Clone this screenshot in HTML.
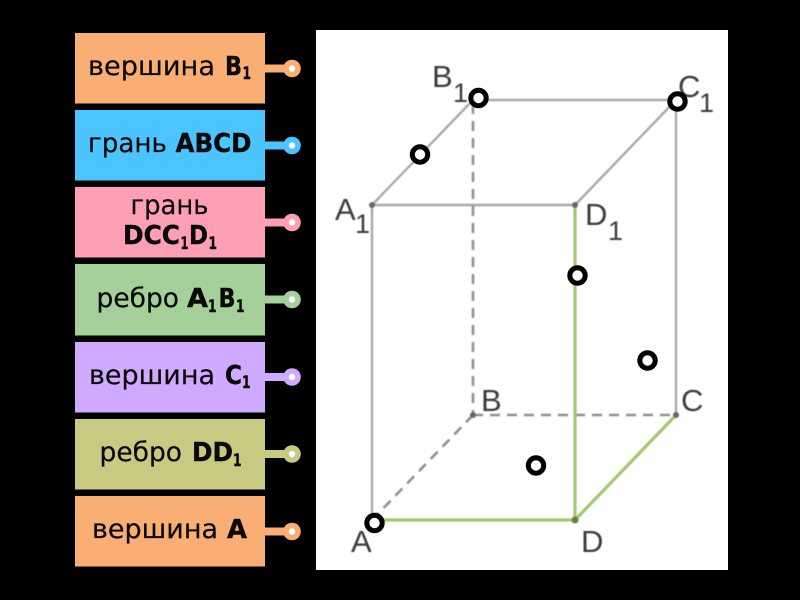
<!DOCTYPE html>
<html>
<head>
<meta charset="utf-8">
<style>
html,body{margin:0;padding:0;background:#000;width:800px;height:600px;overflow:hidden}
svg{display:block}
.t{font-family:"DejaVu Sans","Liberation Sans",sans-serif;font-size:27px;fill:#0a0a0a;stroke:#0a0a0a;stroke-width:.2}
.b{font-family:"DejaVu Sans","Liberation Sans",sans-serif;font-size:26px;font-weight:bold;fill:#0a0a0a;stroke:#0a0a0a;stroke-width:.4}
.s{font-family:"DejaVu Sans","Liberation Sans",sans-serif;font-size:17px;font-weight:bold;fill:#0a0a0a;stroke:#0a0a0a;stroke-width:.4}
.l{font-family:"Liberation Sans",sans-serif;font-size:31px;fill:#3a3a3a}
.n{font-family:"Liberation Sans",sans-serif;font-size:27px;fill:#3a3a3a}
</style>
</head>
<body>
<svg width="800" height="600" viewBox="0 0 800 600" xmlns="http://www.w3.org/2000/svg">
<defs><filter id="soft" x="0" y="0" width="100%" height="100%"><feGaussianBlur stdDeviation="0.45"/></filter></defs>
<rect width="800" height="600" fill="#000"/>
<rect x="316" y="30" width="412" height="540" fill="#fff"/>

<!-- left boxes -->
<g>
<rect x="75" y="33" width="190" height="70.5" fill="#f9ae73"/>
<rect x="265" y="64.5" width="22" height="8" fill="#f9ae73"/><circle cx="292" cy="68.5" r="8.8" fill="#f9ae73"/><circle cx="292" cy="68.5" r="3.2" fill="#fff"/>
<rect x="75" y="110" width="190" height="70.5" fill="#4cc4ff"/>
<rect x="265" y="141.5" width="22" height="8" fill="#4cc4ff"/><circle cx="292" cy="145.5" r="8.8" fill="#4cc4ff"/><circle cx="292" cy="145.5" r="3.2" fill="#fff"/>
<rect x="75" y="187" width="190" height="70.5" fill="#ff9fb4"/>
<rect x="265" y="218.5" width="22" height="8" fill="#ff9fb4"/><circle cx="292" cy="222.5" r="8.8" fill="#ff9fb4"/><circle cx="292" cy="222.5" r="3.2" fill="#fff"/>
<rect x="75" y="264" width="190" height="71.5" fill="#a5d09a"/>
<rect x="265" y="295.5" width="22" height="8" fill="#a5d09a"/><circle cx="292" cy="299.5" r="8.8" fill="#a5d09a"/><circle cx="292" cy="299.5" r="3.2" fill="#fff"/>
<rect x="75" y="342" width="190" height="70.5" fill="#d0aaff"/>
<rect x="265" y="373" width="22" height="8" fill="#d0aaff"/><circle cx="292" cy="377" r="8.8" fill="#d0aaff"/><circle cx="292" cy="377" r="3.2" fill="#fff"/>
<rect x="75" y="419" width="190" height="70.5" fill="#c9c982"/>
<rect x="265" y="450" width="22" height="8" fill="#c9c982"/><circle cx="292" cy="454" r="8.8" fill="#c9c982"/><circle cx="292" cy="454" r="3.2" fill="#fff"/>
<rect x="75" y="496" width="190" height="70.5" fill="#f9ae73"/>
<rect x="265" y="527.5" width="22" height="8" fill="#f9ae73"/><circle cx="292" cy="531.5" r="8.8" fill="#f9ae73"/><circle cx="292" cy="531.5" r="3.2" fill="#fff"/>
</g>

<!-- box text -->
<text class="t" x="88" y="75" textLength="127" lengthAdjust="spacingAndGlyphs">вершина</text>
<text class="b" x="225" y="75" textLength="17" lengthAdjust="spacingAndGlyphs">B</text>
<text class="s" x="242.5" y="79" textLength="8.5" lengthAdjust="spacingAndGlyphs">1</text>

<text class="t" x="88" y="152" textLength="79" lengthAdjust="spacingAndGlyphs">грань</text>
<text class="b" x="175.5" y="152" textLength="76" lengthAdjust="spacingAndGlyphs">ABCD</text>

<text class="t" x="130.5" y="214" textLength="78" lengthAdjust="spacingAndGlyphs">грань</text>
<text class="b" x="123" y="244" textLength="57" lengthAdjust="spacingAndGlyphs">DCC</text>
<text class="s" x="180.5" y="249" textLength="8" lengthAdjust="spacingAndGlyphs">1</text>
<text class="b" x="189" y="244" textLength="19" lengthAdjust="spacingAndGlyphs">D</text>
<text class="s" x="208.5" y="249" textLength="8.5" lengthAdjust="spacingAndGlyphs">1</text>

<text class="t" x="96.5" y="307" textLength="82.5" lengthAdjust="spacingAndGlyphs">ребро</text>
<text class="b" x="187" y="307" textLength="21" lengthAdjust="spacingAndGlyphs">A</text>
<text class="s" x="208" y="312" textLength="8.5" lengthAdjust="spacingAndGlyphs">1</text>
<text class="b" x="218.5" y="307" textLength="17" lengthAdjust="spacingAndGlyphs">B</text>
<text class="s" x="236" y="312" textLength="8.5" lengthAdjust="spacingAndGlyphs">1</text>

<text class="t" x="89" y="384" textLength="126" lengthAdjust="spacingAndGlyphs">вершина</text>
<text class="b" x="225" y="384" textLength="17" lengthAdjust="spacingAndGlyphs">C</text>
<text class="s" x="242" y="388" textLength="8.5" lengthAdjust="spacingAndGlyphs">1</text>

<text class="t" x="99.5" y="461" textLength="82.5" lengthAdjust="spacingAndGlyphs">ребро</text>
<text class="b" x="192" y="461" textLength="41" lengthAdjust="spacingAndGlyphs">DD</text>
<text class="s" x="233" y="466" textLength="8.5" lengthAdjust="spacingAndGlyphs">1</text>

<text class="t" x="92" y="538" textLength="126" lengthAdjust="spacingAndGlyphs">вершина</text>
<text class="b" x="227" y="538" textLength="20" lengthAdjust="spacingAndGlyphs">A</text>

<!-- prism -->
<g filter="url(#soft)">
<g fill="none" stroke-linecap="butt">
<g stroke="#a8a8a8" stroke-width="2.4">
<line x1="372" y1="205" x2="372" y2="520"/>
<line x1="372" y1="205" x2="575" y2="205"/>
<line x1="372" y1="205" x2="473" y2="100"/>
<line x1="473" y1="100" x2="676" y2="100"/>
<line x1="575" y1="205" x2="676" y2="100"/>
<line x1="676" y1="100" x2="676" y2="415"/>
</g>
<g stroke="#8f8f8f" stroke-width="2.6" stroke-dasharray="10 7">
<line x1="473" y1="104" x2="473" y2="415"/>
<line x1="473" y1="415" x2="676" y2="415"/>
<line x1="473" y1="415" x2="372" y2="520"/>
</g>
<g stroke="#a3c66b" stroke-width="3.2">
<line x1="575" y1="205" x2="575" y2="520"/>
<line x1="372" y1="520" x2="575" y2="520"/>
<line x1="575" y1="520" x2="676" y2="415"/>
</g>
</g>
<g fill="#666">
<circle cx="372" cy="205" r="3"/>
<circle cx="575" cy="205" r="3"/>
<circle cx="473" cy="415" r="3"/>
<circle cx="676" cy="415" r="3"/>
<circle cx="575" cy="520" r="3.5" fill="#6b7f45"/>
</g>

<!-- prism labels -->
<text class="l" x="432" y="87">B</text><text class="n" x="453" y="102">1</text>
<text class="l" x="678" y="97">C</text><text class="n" x="699" y="112">1</text>
<text class="l" x="335" y="220">A</text><text class="n" x="355" y="233">1</text>
<text class="l" x="585" y="225">D</text><text class="n" x="608" y="240">1</text>
<text class="l" x="481" y="411">B</text>
<text class="l" x="681" y="411">C</text>
<text class="l" x="351" y="552">A</text>
<text class="l" x="581" y="552">D</text>
</g>

<!-- hotspots -->
<g fill="#fff" stroke="#000" stroke-width="5">
<circle cx="478.5" cy="98" r="7.7"/>
<circle cx="677.5" cy="101.5" r="7.7"/>
<circle cx="420" cy="154.5" r="7.7"/>
<circle cx="577.5" cy="275.5" r="7.7"/>
<circle cx="647.5" cy="360.5" r="7.7"/>
<circle cx="536" cy="465.5" r="7.7"/>
<circle cx="374.5" cy="523" r="7.7"/>
</g>
</svg>
</body>
</html>
